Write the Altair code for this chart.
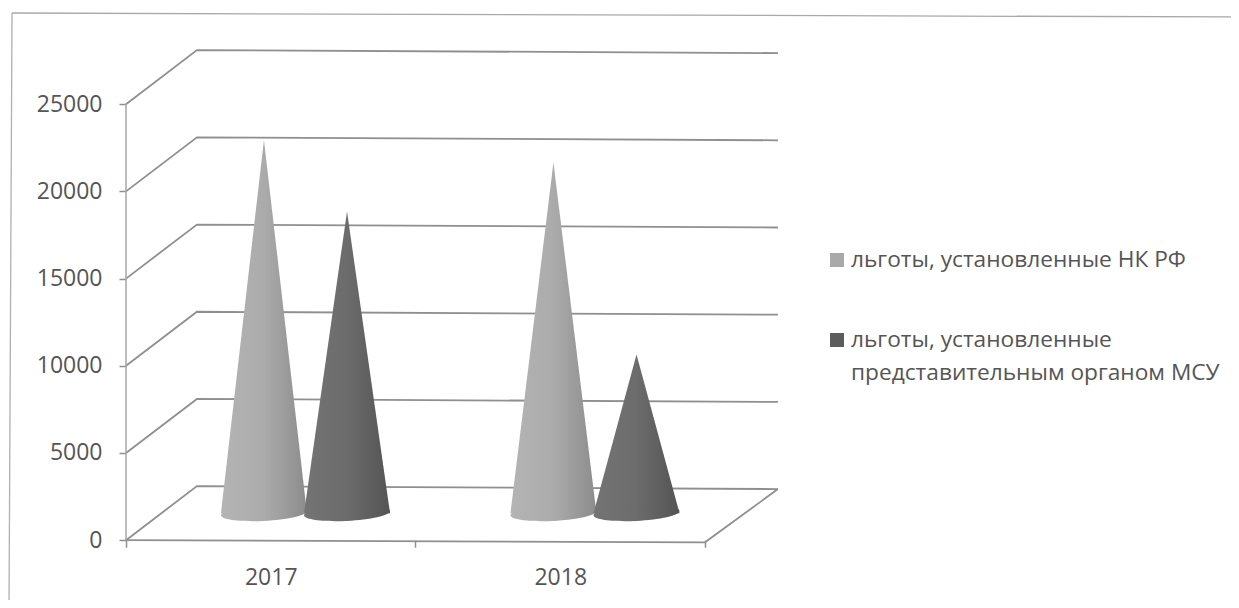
import altair as alt
import pandas as pd

categories = ["2017", "2018"]
series = ["льготы, установленные НК РФ", "льготы, установленные представительным органом МСУ"]
values_nk = [21400, 20100]
values_msu = [17300, 9100]
ticks = [0, 5000, 10000, 15000, 20000, 25000]

FONT = "Open Sans"
TEXT = "#555555"
LINE = "#8f8f8f"

# oblique "3D" projection, expressed in axis units
DEPTH_X = 0.245
DEPTH_Y = 3100
TILT = 170
BACK_RIGHT = 2.252
HALF_W = 0.1485
OFFSETS = [-0.146, 0.141]

x_scale = alt.Scale(domain=[0, 3.817], nice=False, zero=False)
y_scale = alt.Scale(domain=[0, 30000], nice=False, zero=False)
X = lambda f: alt.X(f, type="quantitative", scale=x_scale, title=None,
                    axis=alt.Axis(values=[0, 0.5, 1, 1.5, 2], grid=False, domain=False,
                                  tickSize=7, tickColor=LINE, tickWidth=1.5,
                                  tickOpacity=alt.condition("datum.value % 1 === 0", alt.value(1), alt.value(0)),
                                  labelExpr="datum.value === 0.5 ? '2017' : datum.value === 1.5 ? '2018' : ''",
                                  labelFont=FONT, labelFontSize=23, labelColor=TEXT,
                                  labelPadding=19))
Y = lambda f: alt.Y(f, type="quantitative", scale=y_scale, title=None,
                    axis=alt.Axis(values=ticks, format="d", grid=False, domain=False,
                                  tickSize=7, tickColor=LINE, tickWidth=1.5,
                                  labelFont=FONT, labelFontSize=23, labelColor=TEXT,
                                  labelPadding=17))

# gridlines: front edge -> back wall -> right end
grid_rows = []
for v in ticks:
    grid_rows += [
        {"v": v, "gx": 0, "gy": v},
        {"v": v, "gx": DEPTH_X, "gy": v + DEPTH_Y},
        {"v": v, "gx": BACK_RIGHT, "gy": v + DEPTH_Y - TILT},
    ]
grid_df = pd.DataFrame(grid_rows)
floor_df = pd.DataFrame({"gx": [2 + DEPTH_X + 0.007, 2, 0],
                         "gy": [DEPTH_Y - TILT, -120, 0], "order": [0, 1, 2]})
axis_df = pd.DataFrame({"gx": [0, 0], "gy": [0, 25000]})

grid = alt.Chart(grid_df).mark_line(color=LINE, strokeWidth=1.8).encode(
    x=X("gx"), y=Y("gy"), detail="v:N", order=alt.Order("gx:Q"))
floor = alt.Chart(floor_df).mark_line(color=LINE, strokeWidth=1.8).encode(
    x=X("gx"), y=Y("gy"), order="order:Q")
y_line = alt.Chart(axis_df).mark_line(color="#a6a6a6", strokeWidth=1.5).encode(
    x=X("gx"), y=Y("gy"))


def cone_frames(vals, offset):
    rows, bases = [], []
    for i, (c, val) in enumerate(zip(categories, vals)):
        cx = i + 0.5 + offset + DEPTH_X / 2
        base = DEPTH_Y / 2
        rows.append({"cat": c, "cy": base, "l": cx - HALF_W, "r": cx + HALF_W, "v": val})
        rows.append({"cat": c, "cy": base + val, "l": cx, "r": cx, "v": val})
        bases.append({"cat": c, "cx": cx, "cy": base})
    return pd.DataFrame(rows), pd.DataFrame(bases)


def gradient(stops):
    return alt.Gradient(gradient="linear", x1=0, x2=1, y1=0, y2=0,
                        stops=[alt.GradientStop(offset=o, color=c) for o, c in stops])


ELLIPSE = "M-1,0.05 A1,0.18 -3 1 0 1,-0.05 A1,0.18 -3 1 0 -1,0.05 Z"


def cone(vals, offset, stops):
    body, base = cone_frames(vals, offset)
    g = gradient(stops)
    b = alt.Chart(body).mark_area(orient="horizontal", fill=g, line=False).encode(
        y=Y("cy"), x=X("l"), x2="r", detail="cat:N")
    e = alt.Chart(base).mark_point(shape=ELLIPSE, size=7396, filled=True, fill=g, opacity=1, strokeWidth=0).encode(
        x=X("cx"), y=Y("cy"))
    return e + b


light = cone(values_nk, OFFSETS[0], [(0, "#b4b4b4"), (0.5, "#ababab"), (1, "#8c8c8c")])
dark = cone(values_msu, OFFSETS[1], [(0, "#747474"), (0.5, "#6c6c6c"), (1, "#545454")])

# hand-placed legend (second label runs over two lines, as in the picture)
legend_df = pd.DataFrame({"name": series, "i": [0, 1]})
sq1 = alt.Chart(legend_df[legend_df.i == 0]).mark_square(size=196, filled=True, color="#a9a9a9", opacity=1).encode(
    x=alt.value(837 - 126), y=alt.value(260 - 17))
sq2 = alt.Chart(legend_df[legend_df.i == 1]).mark_square(size=196, filled=True, color="#5c5c5c", opacity=1).encode(
    x=alt.value(837 - 126), y=alt.value(340 - 17))
txt_style = dict(font=FONT, fontSize=22.7, color=TEXT, align="left", baseline="middle")
t1 = alt.Chart(pd.DataFrame({"t": ["льготы, установленные НК РФ"]})).mark_text(**txt_style).encode(
    x=alt.value(851 - 126), y=alt.value(260 - 17), text="t:N")
t2 = alt.Chart(pd.DataFrame({"t": ["льготы, установленные"]})).mark_text(**txt_style).encode(
    x=alt.value(851 - 126), y=alt.value(340 - 17), text="t:N")
t3 = alt.Chart(pd.DataFrame({"t": ["представительным органом МСУ"]})).mark_text(**txt_style).encode(
    x=alt.value(851 - 126), y=alt.value(373 - 17), text="t:N")

# scanned page frame (top and left edges, slightly skewed)
frame_top = alt.Chart(pd.DataFrame({"f": [0]})).mark_rule(color="#a8a8a8", strokeWidth=1.3).encode(
    x=alt.value(12 - 126), x2=alt.value(1239 - 126), y=alt.value(13 - 17), y2=alt.value(17 - 17))
frame_left = alt.Chart(pd.DataFrame({"f": [0]})).mark_rule(color="#b0b0b0", strokeWidth=1.3).encode(
    x=alt.value(12 - 126), x2=alt.value(9 - 126), y=alt.value(13 - 17), y2=alt.value(608 - 17))

chart = alt.layer(
    frame_top, frame_left, grid, floor, y_line, light, dark, sq1, sq2, t1, t2, t3
).properties(
    width=1105, height=523.2,
    padding={"left": 118, "top": 9, "right": 0, "bottom": 60},
    autosize=alt.AutoSizeParams(type="none"),
).configure_view(stroke=None)

chart.save("out.html", embed_options={"renderer": "svg", "actions": False})
